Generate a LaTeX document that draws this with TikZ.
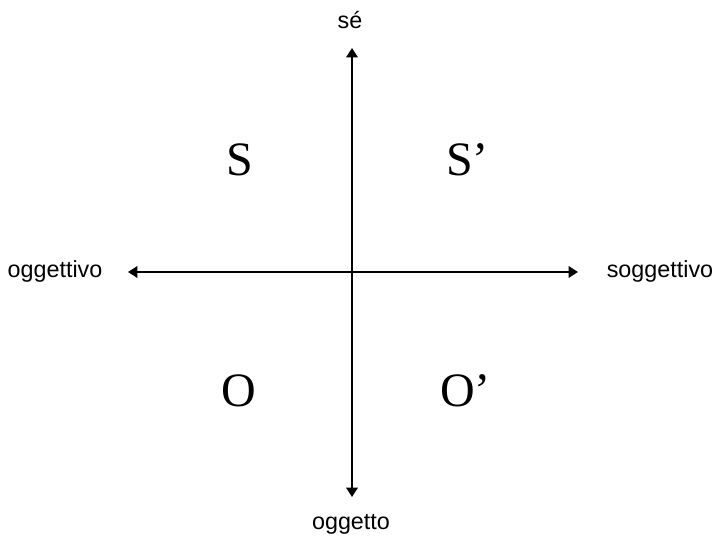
\documentclass[tikz,border=0pt]{standalone}
\usepackage{fontspec}
\setmainfont{Liberation Serif}
\setsansfont{Liberation Sans}
\usetikzlibrary{arrows.meta}
\begin{document}
\begin{tikzpicture}[x=0.75pt,y=-0.75pt,
  axis/.style={line width=1.6pt,{Triangle[length=7pt,width=8.5pt]}-{Triangle[length=7pt,width=8.5pt]}},
  lab/.style={font=\sffamily\fontsize{17.5pt}{20pt}\selectfont,inner sep=0pt},
  big/.style={font=\rmfamily\fontsize{36pt}{40pt}\selectfont,inner sep=0pt}]
\useasboundingbox (0,0) rectangle (715,538);
\coordinate (top) at (352,48);
\coordinate (bot) at (352,497);
\coordinate (left) at (128,272);
\coordinate (right) at (578,272);
\draw[axis] (bot) -- (top);
\draw[axis] (left) -- (right);
\node[lab,anchor=base] (se) at (350,29) {sé};
\node[lab,anchor=base] (ogg) at (351,530) {oggetto};
\node[lab,anchor=base] (oggv) at (55,278) {oggettivo};
\node[lab,anchor=base] (sogg) at (660,278) {soggettivo};
\node[big,anchor=base] (S) at (240,176) {S};
\node[big,anchor=base west] (Sp) at (446,176) {S’};
\node[big,anchor=base] (O) at (239,407) {O};
\node[big,anchor=base west] (Op) at (440,407) {O’};
\end{tikzpicture}
\end{document}
